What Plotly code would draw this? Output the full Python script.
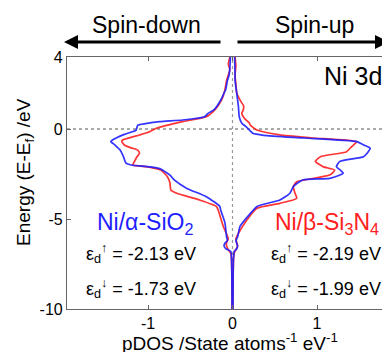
import plotly.graph_objects as go

# ---- data (E in eV, pDOS in states/atom/eV; spin-down negative) ----
E_sio2_down = [4.0, 3.5, 3.0, 2.7, 2.2, 2.0, 1.6, 1.06, 0.87, 0.68, 0.5, 0.41, 0.3, 0.22, 0.1, -0.06,
               -0.3, -0.61, -0.7, -0.89, -1.17, -1.54, -1.9, -2.0, -2.1, -2.2, -2.56, -2.83, -3.3,
               -3.76, -4.3, -4.5, -5.2, -6.0, -6.2, -6.35, -6.5, -6.65, -6.8, -7.2, -8.0, -10.0]
pdos_sio2_down = [-0.025, -0.03, -0.04, -0.06, -0.08, -0.10, -0.14, -0.22, -0.29, -0.33, -0.59, -0.86,
                  -1.03, -1.12, -1.13, -1.14, -1.28, -1.42, -1.44, -1.39, -1.33, -1.29, -1.26, -1.2,
                  -0.98, -0.86, -0.74, -0.69, -0.54, -0.31, -0.15, -0.14, -0.09, -0.07, -0.06, -0.09,
                  -0.10, -0.08, -0.02, -0.012, -0.008, -0.005]

E_si3n4_down = [4.0, 3.6, 3.3, 3.0, 2.7, 2.17, 1.6, 1.06, 0.68, 0.41, 0.2, 0.04, -0.15, -0.33, -0.61,
                -0.7, -0.89, -1.05, -1.17, -1.35, -1.54, -1.8, -2.0, -2.1, -2.28, -2.65, -3.0, -3.39,
                -3.57, -3.94, -4.3, -4.5, -5.4, -6.1, -6.3, -6.5, -6.7, -6.9, -7.2, -8.0, -10.0]
pdos_si3n4_down = [-0.03, -0.05, -0.03, -0.05, -0.07, -0.09, -0.13, -0.21, -0.31, -0.59, -0.78, -0.9,
                   -0.98, -1.1, -1.3, -1.31, -1.28, -1.2, -1.12, -1.1, -1.13, -1.16, -1.18, -1.0,
                   -0.85, -0.77, -0.74, -0.73, -0.66, -0.39, -0.19, -0.17, -0.11, -0.05, -0.07,
                   -0.07, -0.05, -0.02, -0.012, -0.008, -0.005]

E_sio2_up = [4.0, 3.0, 2.7, 2.0, 1.24, 0.68, 0.32, 0.13, -0.15, -0.24, -0.35, -0.5, -0.7, -0.9, -1.07,
             -1.3, -1.54, -1.8, -2.09, -2.3, -2.45, -2.6, -2.74, -2.83, -3.0, -3.2, -3.57, -3.94,
             -4.3, -4.7, -5.4, -6.0, -6.2, -6.35, -6.5, -6.65, -6.8, -7.2, -8.0, -10.0]
pdos_sio2_up = [0.025, 0.03, 0.03, 0.05, 0.07, 0.08, 0.11, 0.16, 0.22, 0.24, 0.37, 0.85, 1.47, 1.56,
                1.63, 1.6, 1.55, 1.27, 1.23, 1.28, 1.31, 1.25, 1.15, 0.83, 0.77, 0.72, 0.68, 0.56,
                0.29, 0.21, 0.09, 0.06, 0.04, 0.05, 0.06, 0.05, 0.02, 0.012, 0.008, 0.005]

E_si3n4_up = [4.0, 3.5, 3.0, 2.5, 2.0, 1.52, 1.3, 1.1, 0.87, 0.6, 0.33, 0.22, -0.06, -0.33, -0.5,
              -0.7, -0.98, -1.26, -1.54, -1.8, -2.09, -2.28, -2.56, -2.93, -3.2, -3.57, -3.85, -4.13,
              -4.4, -5.05, -5.8, -6.1, -6.3, -6.5, -6.7, -6.9, -7.2, -8.0, -10.0]
pdos_si3n4_up = [0.03, 0.04, 0.03, 0.04, 0.05, 0.1, 0.13, 0.13, 0.11, 0.14, 0.2, 0.21, 0.29, 0.56,
                 0.95, 1.47, 1.41, 1.35, 1.04, 0.98, 1.07, 1.21, 1.15, 0.76, 0.72, 0.74, 0.76, 0.56,
                 0.29, 0.17, 0.07, 0.04, 0.05, 0.06, 0.04, 0.02, 0.012, 0.008, 0.005]

x_ticks = [-1, 0, 1]
y_ticks = [-10, -5, 0, 4]

BLUE = "#1f1fff"
RED = "#ff2020"
FONT = "Liberation Sans, Arial, sans-serif"

fig = go.Figure()
for xs, ys, c in [(pdos_si3n4_down, E_si3n4_down, RED), (pdos_si3n4_up, E_si3n4_up, RED),
                  (pdos_sio2_down, E_sio2_down, BLUE), (pdos_sio2_up, E_sio2_up, BLUE)]:
    fig.add_trace(go.Scatter(x=xs, y=ys, mode="lines",
                             line=dict(color=c, width=1.7, shape="spline", smoothing=0.5),
                             opacity=0.9, showlegend=False, hoverinfo="skip"))

# dotted reference lines
fig.add_shape(type="line", xref="paper", yref="y", x0=0, x1=1, y0=0, y1=0,
              line=dict(color="#555555", width=1, dash="dot"), layer="below")
fig.add_shape(type="line", xref="x", yref="y", x0=0, x1=0, y0=-10, y1=4,
              line=dict(color="#999999", width=1.2, dash="dot"), layer="below")

# page body has an 8px margin: lay out in reference pixels shifted by OFF
OFF = 8
W, H = 390 - OFF, 352 - OFF
L, R, T, B = 67 - OFF, 0, 57 - OFF, 43
pw, ph = W - L - R, H - T - B

def px(x):
    return (x - OFF - L) / pw

def py(y):
    return (H - B - (y - OFF)) / ph

def label(x, y, text, size, color="black", **kw):
    return dict(x=px(x), y=py(y), xref="paper", yref="paper", text=text, showarrow=False,
                xanchor="center", yanchor="middle",
                font=dict(size=size, color=color, family=FONT), **kw)

ann = []
# spin direction labels and arrows
ann.append(label(146, 25, "Spin-down", 23))
ann.append(label(314, 25, "Spin-up", 23))
ann.append(dict(x=px(64), y=py(42), xref="paper", yref="paper", text="", showarrow=True,
                ax=222 - 64, ay=0, arrowhead=2, arrowsize=1, arrowwidth=2.8, arrowcolor="black"))
ann.append(dict(x=px(393), y=py(42), xref="paper", yref="paper", text="", showarrow=True,
                ax=236 - 393, ay=0, arrowhead=2, arrowsize=1, arrowwidth=2.8, arrowcolor="black"))
# inner labels
ann.append(label(353, 76, "Ni 3d", 25))
ann.append(label(145, 223, "Ni/α-SiO<sub>2</sub>", 23, BLUE))
ann.append(label(327, 223, "Ni/β-Si<sub>3</sub>N<sub>4</sub>", 23, RED))
for cx, txts in [(141, ["ε<sub>d</sub><sup>↑</sup> = -2.13 eV", "ε<sub>d</sub><sup>↓</sup> = -1.73 eV"]),
                 (326, ["ε<sub>d</sub><sup>↑</sup> = -2.19 eV", "ε<sub>d</sub><sup>↓</sup> = -1.99 eV"])]:
    for yy, t in zip([253, 288], txts):
        ann.append(label(cx, yy, t, 18))
# axis titles
ann.append(label(230, 342, "pDOS /State atoms<sup>-1</sup> eV<sup>-1</sup>", 19))
ann.append(label(25, 172, "Energy (E-E<sub>f</sub>) /eV", 19, textangle=-90))

fig.update_layout(
    width=W, height=H, margin=dict(l=L, r=R, t=T, b=B, pad=0, autoexpand=False),
    paper_bgcolor="white", plot_bgcolor="white",
    font=dict(family=FONT, size=16, color="black"),
    annotations=ann,
    xaxis=dict(range=[(67 - 232.5) / 84.5, (390 - 232.5) / 84.5], tickvals=x_ticks,
               ticktext=[str(v) for v in x_ticks], showgrid=False, zeroline=False,
               showline=True, linecolor="#666666", linewidth=1.2, mirror="ticks",
               ticks="inside", ticklen=4, tickcolor="#666666", automargin=False,
               tickfont=dict(size=16, color="black", family=FONT)),
    yaxis=dict(range=[-10, 4], tickvals=y_ticks, ticktext=[str(v) for v in y_ticks],
               showgrid=False, zeroline=False, showline=True, linecolor="#666666",
               linewidth=1.2, ticks="inside", ticklen=4, tickcolor="#666666", automargin=False,
               tickfont=dict(size=16, color="black", family=FONT)),
)

fig.write_html("out.html")
